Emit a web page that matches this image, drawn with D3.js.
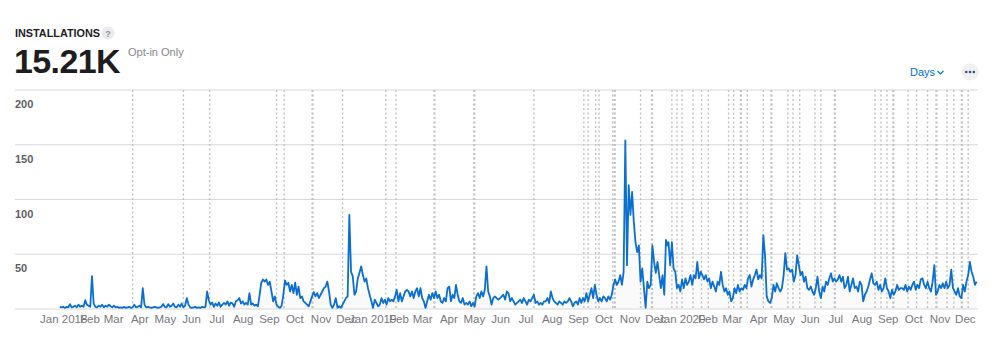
<!DOCTYPE html>
<html><head><meta charset="utf-8">
<script src="https://cdn.jsdelivr.net/npm/d3@7"></script>
<style>
html,body{margin:0;padding:0;background:#fff;}
svg{display:block;font-family:"Liberation Sans",Arial,Helvetica,sans-serif;}
</style></head><body>
<svg id="chart" width="1000" height="358"></svg>
<script>
// ---------- data (daily installs sampled every 2 days) ----------
const seriesStarts = ["2018-01-12", "2019-01-01", "2020-01-01"];
const stepDays = 2;
const values2018 = [
 2,1.5,2,1,2,1.5, 4.5, 1.5,2,3,1.5,4,2,3,2, 8,4,3,2, 30,5,
 2,1.5,3,2,4,1.5,3,2,4,2.5,1.5,3,1.5,2,
 1,1.5,1,2,1,1.5,2,1,1.5,4,1.5,2,3,1.5,
 19,4, 1.5,2,1.5,1,1.5,2,1.5,1,1.5,2,
 4.5,2,1.5,4.5,2,3,5,2,1.5,4,2,5,1.5,3,10,
 4,1.5,1,1.5,2,1,1.5,1,2,1.5,2, 16,8,
 4,6,2,5,3,6,2,4, 5.5,4,7,3,6,5,2,7,8,
 10,5,7,4,5.5,4,14.5,4,5,3,4,2.5,
 13,24,27,25,27,22,25,16,7,11.5,4,
 2,1,3,13,26,22,24,16,22,14.5,24,13,20.5,10,11.5,7,5.5,4,2.5,7,
 11.5,15.5,11.5,14.5,10,13,16,19,20.5,25,16,4,1,4,10,1,2.5,1,4,7,
 10,11.5,86,34,30,13,16,28
];
const values2019 = [
 33,39,31,25,28,19,13,7,1,8.5, 5.5,2.5,4,10,5.5,8.5,4,10,7,8.5,
 7,11.5,17.5,7,14.5,7,11.5,16,17.5,16, 11.5,16,10,16,19,11.5,19,10,7,1,
 7,13,8.5,14.5,10,16,10,13,7,5.5, 10,7,19,20.5,7,13,10,22,13,7,
 5.5,10,4,5.5,4,7,2.5,5.5,2.5,11.5, 14.5,10,16,11.5,17.5,39,16,11.5,4,10,
 11.5,10,8.5,10,11.5,13,8.5,16,14.5,7, 10,7,4,5.5,
 7,8.5,5.5,10,7,4,8.5,7,10,13, 5.5,7,4,5.5,4,7,7,10,5.5,16,
 10,7,5.5,4,7,5.5,4,7,5.5,7, 10,7,2.5,5.5,7,4,10,5.5,10,7,
 14.5,7,13,19,10,22,13,7,10,7, 11.5,10,7,11.5,8.5,13,22,27,22,25,
 31,22,34,154,40,113,86,107,80,61, 52,58,25,37,19,1,25,19,22,58,
 43,33,43,31,19,31,13,63,58
];
const values2020 = [
 61,40,61,37,34,19,22,16,27,19, 28,22,25,31,22,31,28,43,28,34,
 31,27,31,25,28,19,25,20.5,16,25, 22,34,22,16,19,13,16,7,10,19,
 14.5,22,16,19,17.5,22,19,28,31,
 20.5,27,31,36,27,31,28,67.5,49,11.5, 7,5.5,10,22,16,23.5,19,16,19,31,
 51,36,37,34,36,25,31,49,40,31, 34,25,29.5,19,17.5,20.5,16,13,19,29.5,
 16,10,20.5,16,25,22,28,32.5,25,28, 25,27,31,25,29.5,19,22,29.5,16,22,
 28,19,20.5,16,25,22,7,13,16,20.5, 27,32.5,23.5,22,25,17.5,22,16,19,28,
 19,16,10,17.5,13,16,22,17.5,19,19, 17.5,22,16,20.5,17.5,22,25,17.5,22,19,
 27,28,22,19,25,19,16,25,40,13, 16,22,19,23.5,19,25,19,22,36,19,
 16,13,19,11.5,10,22,16,25,31,43, 34,29.5,22,25
];
// app version release markers
const releaseDates = [
 "2018-04-08","2018-06-07","2018-07-08","2018-09-25","2018-10-04","2018-11-06","2018-11-07","2018-12-12",
 "2019-02-01","2019-02-13","2019-03-30","2019-03-31","2019-05-16","2019-05-17","2019-07-26",
 "2019-09-23","2019-09-28","2019-10-07","2019-10-11","2019-10-27","2019-10-29","2019-10-30",
 "2019-11-29","2019-12-12","2019-12-13",
 "2020-01-05","2020-01-11","2020-01-17","2020-01-30","2020-02-09","2020-02-17",
 "2020-03-12","2020-03-18","2020-03-26","2020-03-27","2020-04-03","2020-04-22",
 "2020-05-01","2020-05-02","2020-05-21","2020-05-27","2020-06-04","2020-06-22","2020-06-29",
 "2020-07-15","2020-07-16","2020-09-01","2020-09-08","2020-09-15","2020-09-22","2020-09-23",
 "2020-10-10","2020-10-20","2020-11-02","2020-11-12","2020-11-13","2020-11-25",
 "2020-12-03","2020-12-12","2020-12-13","2020-12-20"
];
const yTicks = [50, 100, 150, 200];
const monthNames = ["Jan","Feb","Mar","Apr","May","Jun","Jul","Aug","Sep","Oct","Nov","Dec"];
const xDomain = ["2018-01-01", "2020-12-31"];

// ---------- build ----------
const parse = d3.utcParse("%Y-%m-%d");
const seriesValues = [values2018, values2019, values2020];
const data = [];
seriesValues.forEach((arr, k) => {
  const s = parse(seriesStarts[k]);
  arr.forEach((v, i) => data.push({date: d3.utcDay.offset(s, i * stepDays), value: v}));
});

const svg = d3.select("#chart");
const frameLeft = 15, plotLeft = 50.5, plotRight = 977.5, plotTop = 90, plotBottom = 309;

const x = d3.scaleUtc().domain(xDomain.map(parse)).range([plotLeft, plotRight]);
const y = d3.scaleLinear().domain([0, 200]).range([plotBottom, plotTop]);

// header
svg.append("text").attr("x", 15).attr("y", 37).attr("font-size", 10.5).attr("font-weight", 700)
  .attr("fill", "#1d1d1f").attr("textLength", 85).attr("lengthAdjust", "spacingAndGlyphs").text("INSTALLATIONS");
svg.append("circle").attr("cx", 108).attr("cy", 33).attr("r", 6.5).attr("fill", "#ebebed");
svg.append("text").attr("x", 108).attr("y", 36.5).attr("text-anchor", "middle").attr("font-size", 9)
  .attr("font-weight", 700).attr("fill", "#8e8e93").text("?");
svg.append("text").attr("x", 14).attr("y", 73).attr("font-size", 34).attr("font-weight", 700)
  .attr("fill", "#1d1d1f").attr("letter-spacing", -0.6).text("15.21K");
svg.append("text").attr("x", 128).attr("y", 56).attr("font-size", 11).attr("fill", "#86868b").text("Opt-in Only");
svg.append("text").attr("x", 910).attr("y", 76).attr("font-size", 11).attr("fill", "#0070c9").text("Days");
svg.append("path").attr("d", "M937.5,71 l3,3 l3,-3").attr("fill", "none").attr("stroke", "#0070c9").attr("stroke-width", 1.2);
svg.append("circle").attr("cx", 970).attr("cy", 72).attr("r", 8.5).attr("fill", "#f0f0f2");
[-3.8, 0, 3.8].forEach(dx => svg.append("circle").attr("cx", 970 + dx).attr("cy", 72).attr("r", 1.3).attr("fill", "#2f4f7f"));

// horizontal gridlines
svg.append("g").selectAll("line").data([0].concat(yTicks)).join("line")
  .attr("x1", frameLeft).attr("x2", plotRight + 0.5)
  .attr("y1", d => y(d)).attr("y2", d => y(d))
  .attr("stroke", "#d9d9dc").attr("stroke-width", 1.2);

// y labels (below each gridline)
svg.append("g").selectAll("text").data(yTicks).join("text")
  .attr("x", 15).attr("y", d => y(d) + 18)
  .attr("font-size", 11).attr("font-weight", 700).attr("fill", "#5e5e63")
  .text(d => d);

// release markers
svg.append("g").selectAll("line").data(releaseDates.map(parse)).join("line")
  .attr("x1", d => x(d)).attr("x2", d => x(d))
  .attr("y1", plotTop).attr("y2", plotBottom)
  .attr("stroke", "#c2c2c6").attr("stroke-width", 1.4).attr("stroke-dasharray", "2,2.5");

// area + line
const area = d3.area().x(d => x(d.date)).y0(y(0)).y1(d => y(d.value)).curve(d3.curveLinear);
svg.append("path").datum(data).attr("d", area).attr("fill", "#9aa6b8").attr("fill-opacity", 0.05);
const line = d3.line().x(d => x(d.date)).y(d => y(d.value)).curve(d3.curveLinear);
svg.append("path").datum(data).attr("d", line).attr("fill", "none")
  .attr("stroke", "#0a6fcf").attr("stroke-width", 1.8).attr("stroke-linejoin", "round");

// x axis month labels (centered mid-month)
const months = d3.utcMonth.range(parse(xDomain[0]), d3.utcDay.offset(parse(xDomain[1]), 1));
const xAxis = d3.axisBottom(x).tickValues(months.map(m => d3.utcDay.offset(m, 15)))
  .tickSize(0).tickPadding(0)
  .tickFormat(d => { const m = d.getUTCMonth(); return m === 0 ? monthNames[0] + " " + d.getUTCFullYear() : monthNames[m]; });
const gx = svg.append("g").attr("transform", `translate(0,${plotBottom + 6})`).call(xAxis);
gx.select(".domain").remove();
gx.selectAll("text").attr("font-size", 11.5).attr("fill", "#77777c").attr("dy", "0.71em")
  .attr("font-family", "'Liberation Sans', Arial, sans-serif");
</script>
</body></html>
